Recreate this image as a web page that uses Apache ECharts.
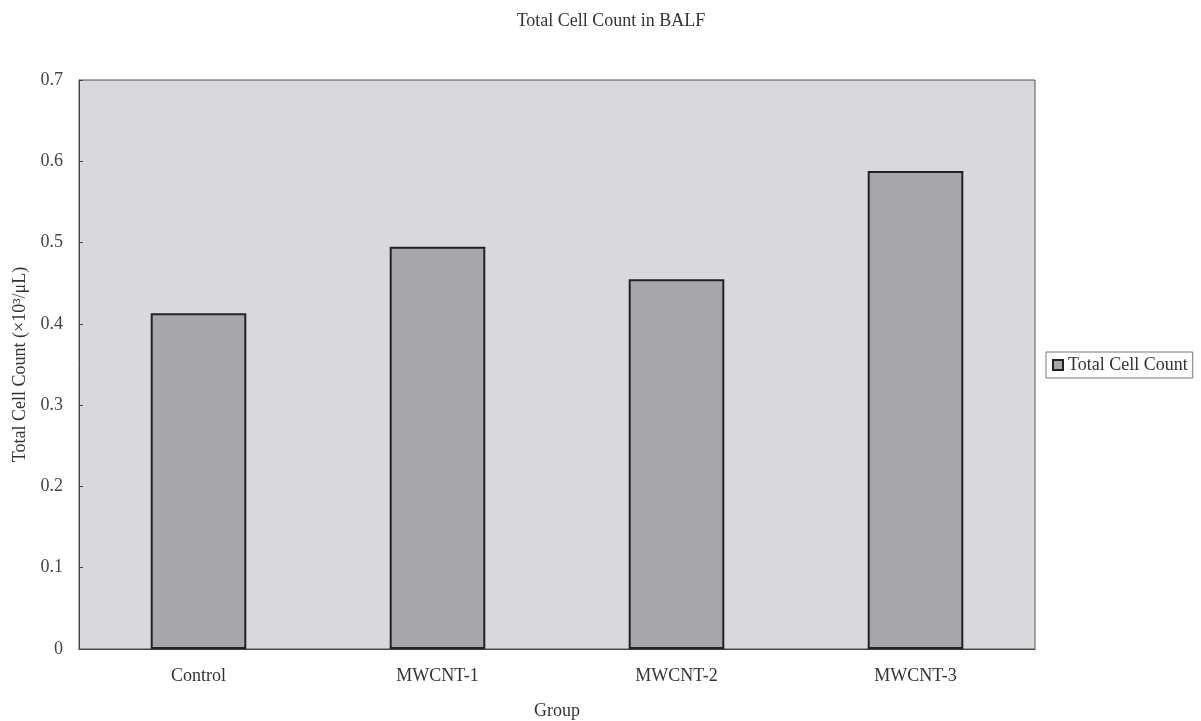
<!DOCTYPE html>
<html>
<head>
<meta charset="utf-8">
<script src="https://cdn.jsdelivr.net/npm/echarts@6/dist/echarts.min.js"></script>
<style>
  html, body { margin: 0; padding: 0; background: #ffffff; }
  #chart { width: 1201px; height: 721px; }
</style>
</head>
<body>
<div id="chart"></div>
<script>
// Groups and their total cell counts in BALF (x10^3 / uL)
const groups = ['Control', 'MWCNT-1', 'MWCNT-2', 'MWCNT-3'];
const totalCellCount = [0.413, 0.495, 0.455, 0.588];
const seriesName = 'Total Cell Count';

const font = '"Liberation Serif", "DejaVu Serif", serif';
const chart = echarts.init(document.getElementById('chart'), null, { renderer: 'canvas' });

chart.setOption({
  animation: false,
  backgroundColor: '#ffffff',
  textStyle: { fontFamily: font },
  title: {
    text: 'Total Cell Count in BALF',
    left: 606,
    textAlign: 'center',
    top: 7,
    textStyle: { fontFamily: font, fontSize: 18, fontWeight: 'normal', color: '#333' }
  },
  legend: {
    data: [seriesName],
    orient: 'vertical',
    left: 1046,
    top: 352,
    icon: 'rect',
    itemWidth: 10,
    itemHeight: 10,
    itemGap: 4,
    padding: [4, 5, 4, 6],
    borderColor: '#777',
    borderWidth: 1,
    backgroundColor: '#ffffff',
    textStyle: { fontFamily: font, fontSize: 18, color: '#333' }
  },
  grid: {
    left: 79,
    right: 166,
    top: 80,
    bottom: 72,
    outerBoundsMode: 'none',
    containLabel: false,
    show: true,
    backgroundColor: '#d9d8dd',
    borderColor: '#555',
    borderWidth: 1
  },
  xAxis: {
    type: 'category',
    data: groups,
    name: 'Group',
    nameLocation: 'middle',
    nameGap: 53,
    nameTextStyle: { fontFamily: font, fontSize: 18, color: '#333' },
    axisLine: { lineStyle: { color: '#444' } },
    axisTick: { inside: true, length: 5, lineStyle: { color: '#444' } },
    axisLabel: { fontFamily: font, fontSize: 18, color: '#333', margin: 18 }
  },
  yAxis: {
    type: 'value',
    min: 0,
    max: 0.7,
    interval: 0.1,
    name: 'Total Cell Count (×10³/μL)',
    nameLocation: 'middle',
    nameGap: 50,
    nameTextStyle: { fontFamily: font, fontSize: 18, color: '#333' },
    axisLine: { show: true, lineStyle: { color: '#444' } },
    axisTick: { show: true, inside: true, length: 4, lineStyle: { color: '#444' } },
    splitLine: { show: false },
    axisLabel: {
      fontFamily: font, fontSize: 18, color: '#444', margin: 16,
      formatter: v => (v === 0 ? '0' : v.toFixed(1))
    }
  },
  series: [{
    name: seriesName,
    type: 'bar',
    data: totalCellCount,
    barWidth: '40%',
    itemStyle: {
      color: '#a6a6ab',
      borderColor: '#1e2424',
      borderWidth: 2
    }
  }]
});
</script>
</body>
</html>
